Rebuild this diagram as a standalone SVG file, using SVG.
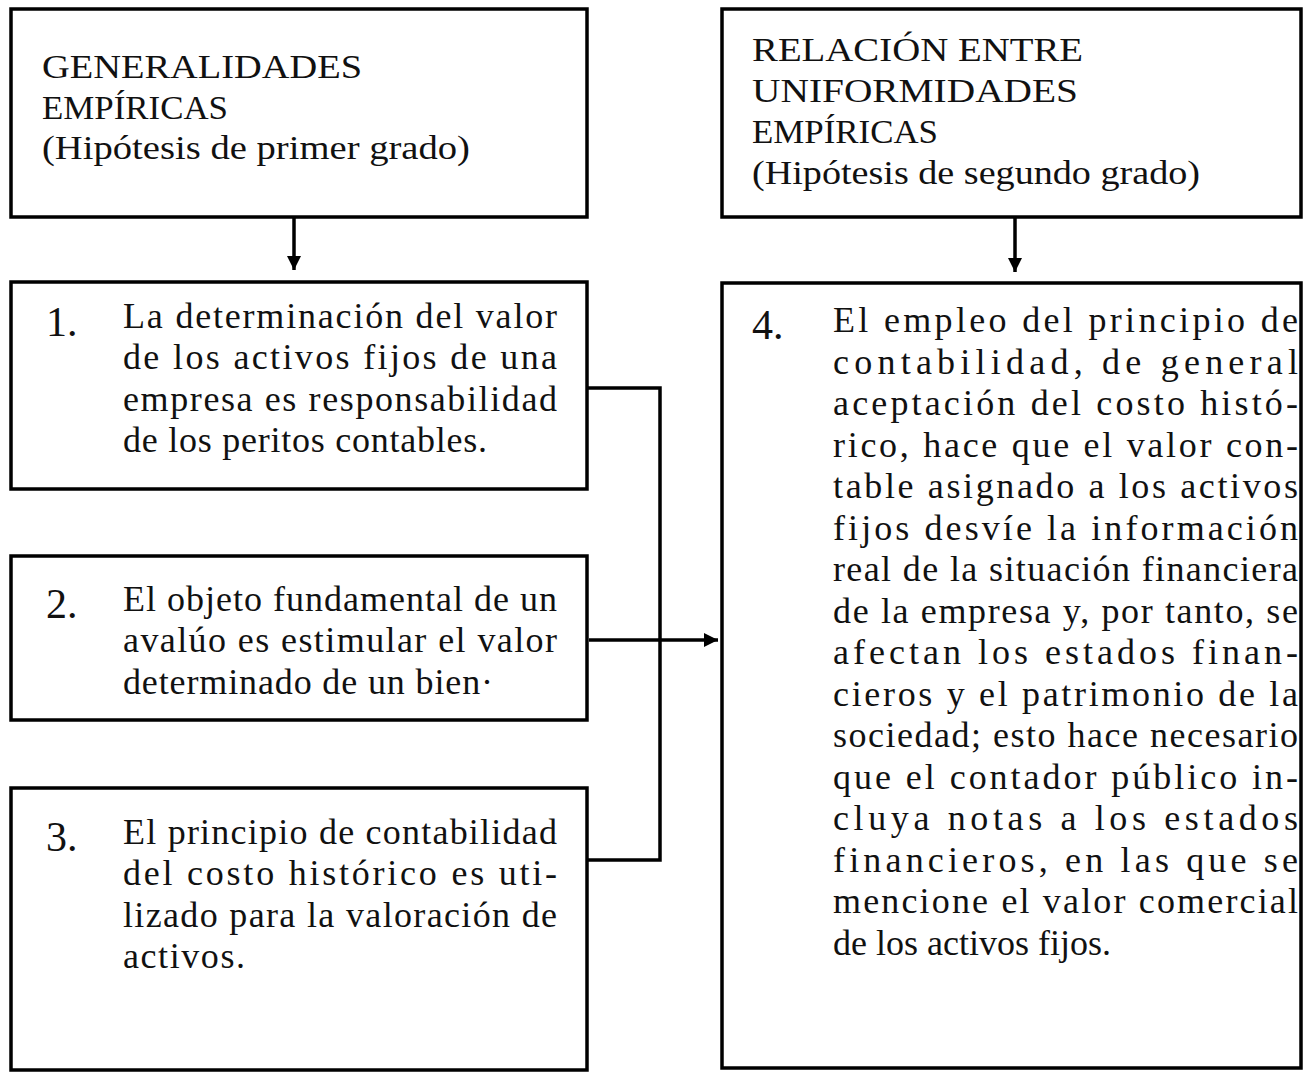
<svg xmlns="http://www.w3.org/2000/svg" width="1303" height="1072" viewBox="0 0 1303 1072">
<style>
.box{fill:#fff;stroke:#000;stroke-width:3.5}
.t{font-family:"Liberation Serif","Times New Roman",serif;fill:#111;font-size:36px}
.h{font-family:"Liberation Serif","Times New Roman",serif;fill:#111;font-size:34px}
.n{font-family:"Liberation Serif","Times New Roman",serif;fill:#111;font-size:42px}
.c{fill:none;stroke:#000;stroke-width:3.5}
</style>
<defs>
<marker id="ah" viewBox="0 0 10 10" refX="10" refY="5" markerWidth="4" markerHeight="4" markerUnits="strokeWidth" orient="auto">
<path d="M0,0 L10,5 L0,10 z" fill="#000"/>
</marker>
</defs>
<rect width="1303" height="1072" fill="#fff"/>
<g id="node-generalidades">
<rect class="box" x="11" y="9" width="576" height="208"/>
<text class="h" x="42" y="78" textLength="320" lengthAdjust="spacingAndGlyphs">GENERALIDADES</text>
<text class="h" x="42" y="119" textLength="186" lengthAdjust="spacingAndGlyphs">EMPÍRICAS</text>
<text class="h" x="42" y="159" textLength="428" lengthAdjust="spacingAndGlyphs">(Hipótesis de primer grado)</text>
</g>
<g id="node-relacion">
<rect class="box" x="722" y="9" width="579" height="208"/>
<text class="h" x="752" y="61" textLength="331" lengthAdjust="spacingAndGlyphs">RELACIÓN ENTRE</text>
<text class="h" x="752" y="102" textLength="326" lengthAdjust="spacingAndGlyphs">UNIFORMIDADES</text>
<text class="h" x="752" y="143" textLength="186" lengthAdjust="spacingAndGlyphs">EMPÍRICAS</text>
<text class="h" x="752" y="184" textLength="448" lengthAdjust="spacingAndGlyphs">(Hipótesis de segundo grado)</text>
</g>
<g id="node-1">
<rect class="box" x="11" y="282" width="576" height="207"/>
<text class="n" x="46" y="336">1.</text>
<text class="t" x="123" y="328" textLength="434" lengthAdjust="spacing">La determinación del valor</text>
<text class="t" x="123" y="369" textLength="434" lengthAdjust="spacing">de los activos fijos de una</text>
<text class="t" x="123" y="411" textLength="434" lengthAdjust="spacing">empresa es responsabilidad</text>
<text class="t" x="123" y="452" textLength="364" lengthAdjust="spacing">de los peritos contables.</text>
</g>
<g id="node-2">
<rect class="box" x="11" y="556" width="576" height="164"/>
<text class="n" x="46" y="618">2.</text>
<text class="t" x="123" y="611" textLength="434" lengthAdjust="spacing">El objeto fundamental de un</text>
<text class="t" x="123" y="652" textLength="434" lengthAdjust="spacing">avalúo es estimular el valor</text>
<text class="t" x="123" y="694" textLength="370" lengthAdjust="spacing">determinado de un bien·</text>
</g>
<g id="node-3">
<rect class="box" x="11" y="788" width="576" height="282"/>
<text class="n" x="46" y="851">3.</text>
<text class="t" x="123" y="844" textLength="434" lengthAdjust="spacing">El principio de contabilidad</text>
<text class="t" x="123" y="885" textLength="434" lengthAdjust="spacing">del costo histórico es uti-</text>
<text class="t" x="123" y="927" textLength="434" lengthAdjust="spacing">lizado para la valoración de</text>
<text class="t" x="123" y="968" textLength="122" lengthAdjust="spacing">activos.</text>
</g>
<g id="node-4">
<rect class="box" x="722" y="283" width="579" height="785"/>
<text class="n" x="752" y="339">4.</text>
<text class="t" x="833" y="332" textLength="465" lengthAdjust="spacing">El empleo del principio de</text>
<text class="t" x="833" y="373.5" textLength="465" lengthAdjust="spacing">contabilidad, de general</text>
<text class="t" x="833" y="415" textLength="465" lengthAdjust="spacing">aceptación del costo histó-</text>
<text class="t" x="833" y="456.5" textLength="465" lengthAdjust="spacing">rico, hace que el valor con-</text>
<text class="t" x="833" y="498" textLength="465" lengthAdjust="spacing">table asignado a los activos</text>
<text class="t" x="833" y="539.5" textLength="465" lengthAdjust="spacing">fijos desvíe la información</text>
<text class="t" x="833" y="581" textLength="465" lengthAdjust="spacing">real de la situación financiera</text>
<text class="t" x="833" y="622.5" textLength="465" lengthAdjust="spacing">de la empresa y, por tanto, se</text>
<text class="t" x="833" y="664" textLength="465" lengthAdjust="spacing">afectan los estados finan-</text>
<text class="t" x="833" y="705.5" textLength="465" lengthAdjust="spacing">cieros y el patrimonio de la</text>
<text class="t" x="833" y="747" textLength="465" lengthAdjust="spacing">sociedad; esto hace necesario</text>
<text class="t" x="833" y="788.5" textLength="465" lengthAdjust="spacing">que el contador público in-</text>
<text class="t" x="833" y="830" textLength="465" lengthAdjust="spacing">cluya notas a los estados</text>
<text class="t" x="833" y="871.5" textLength="465" lengthAdjust="spacing">financieros, en las que se</text>
<text class="t" x="833" y="913" textLength="465" lengthAdjust="spacing">mencione el valor comercial</text>
<text class="t" x="833" y="954.5">de los activos fijos.</text>
</g>
<g id="connectors">
<line class="c" x1="294" y1="217" x2="294" y2="270" marker-end="url(#ah)"/>
<line class="c" x1="1015" y1="217" x2="1015" y2="272" marker-end="url(#ah)"/>
<polyline class="c" points="587,388 660,388 660,860 587,860"/>
<line class="c" x1="589" y1="640" x2="718" y2="640" stroke-width="3" marker-end="url(#ah)"/>
</g>
</svg>
